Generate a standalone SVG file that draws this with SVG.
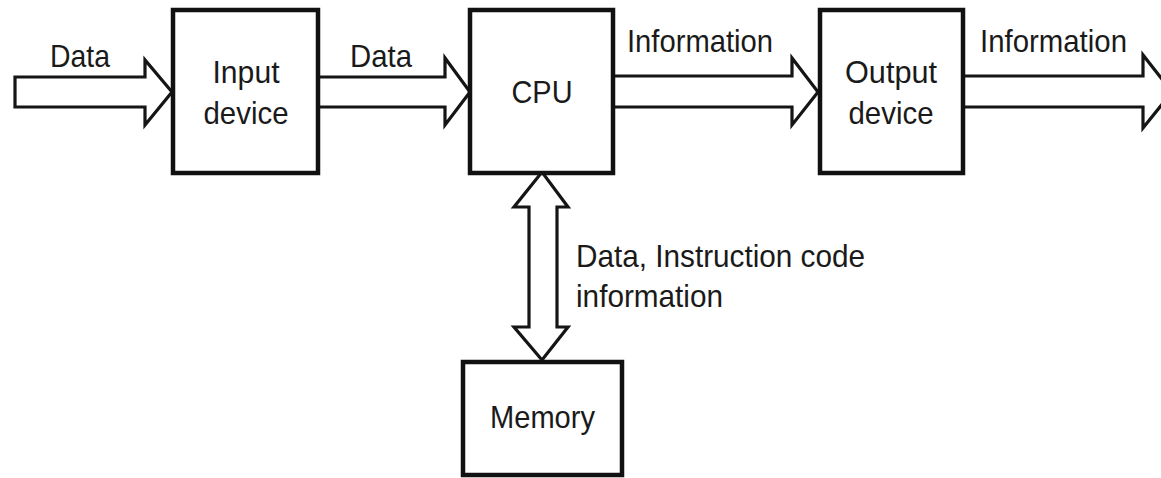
<svg xmlns="http://www.w3.org/2000/svg" width="1161" height="478" viewBox="0 0 1161 478">
<style>
.box{fill:#fff;stroke:#111;stroke-width:4.5}
.arr{fill:#fff;stroke:#151515;stroke-width:3.2;stroke-linejoin:miter}
text{font-family:"Liberation Sans",Arial,sans-serif;font-size:32px;fill:#1a1a1a}
.c{text-anchor:middle}
</style>
<rect width="1161" height="478" fill="#fff"/>
<g id="connectors">
<path class="arr" d="M15,77 L145,77 L145,60 L172,92 L145,125 L145,107 L15,107 Z"/>
<path class="arr" d="M318,77 L445,77 L445,58 L470,92 L445,125 L445,107 L318,107"/>
<path class="arr" d="M613,76 L792,76 L792,58 L818,92 L792,125 L792,107 L613,107"/>
<path class="arr" d="M963,76 L1143,76 L1143,55 L1172,92 L1143,128 L1143,107 L963,107"/>
<path class="arr" d="M529,207 L514,207 L542,172 L568,207 L557,207 L557,327 L568,327 L542,360 L514,327 L529,327 Z"/>
<text x="50" y="67" textLength="60" lengthAdjust="spacingAndGlyphs">Data</text>
<text x="350" y="67" textLength="62" lengthAdjust="spacingAndGlyphs">Data</text>
<text x="627" y="52" textLength="146" lengthAdjust="spacingAndGlyphs">Information</text>
<text x="980" y="52" textLength="147" lengthAdjust="spacingAndGlyphs">Information</text>
<text x="576" y="267" textLength="289" lengthAdjust="spacingAndGlyphs">Data, Instruction code</text>
<text x="576" y="307" textLength="147" lengthAdjust="spacingAndGlyphs">information</text>
</g>
<g id="input">
<rect class="box" x="173" y="10" width="145" height="163"/>
<text class="c" x="246" y="83" textLength="67" lengthAdjust="spacingAndGlyphs">Input</text>
<text class="c" x="246" y="124" textLength="85" lengthAdjust="spacingAndGlyphs">device</text>
</g>
<g id="cpu">
<rect class="box" x="470" y="10" width="143" height="163"/>
<text class="c" x="542" y="103" textLength="61" lengthAdjust="spacingAndGlyphs">CPU</text>
</g>
<g id="output">
<rect class="box" x="820" y="10" width="143" height="163"/>
<text class="c" x="891" y="83" textLength="92" lengthAdjust="spacingAndGlyphs">Output</text>
<text class="c" x="891" y="124" textLength="85" lengthAdjust="spacingAndGlyphs">device</text>
</g>
<g id="memory">
<rect class="box" x="463" y="362" width="159" height="113"/>
<text class="c" x="542.5" y="428" textLength="105" lengthAdjust="spacingAndGlyphs">Memory</text>
</g>
</svg>
